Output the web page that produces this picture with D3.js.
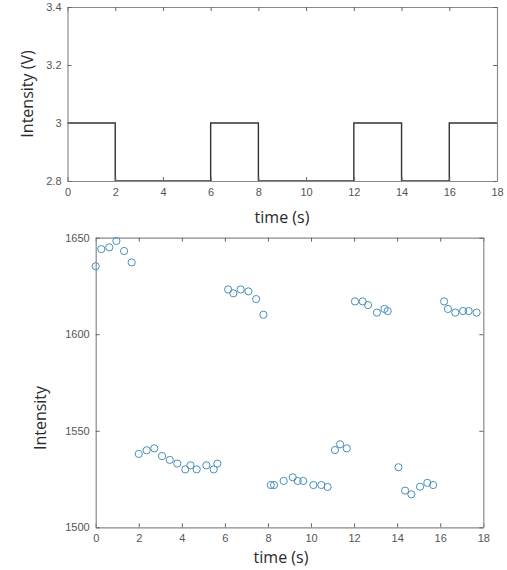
<!DOCTYPE html>
<html>
<head>
<meta charset="utf-8">
<script src="https://cdn.jsdelivr.net/npm/d3@7"></script>
<style>
  body { margin: 0; background: #fff; }
  svg { display: block; }
  .tick text { font-family: "Liberation Sans", Arial, sans-serif; font-size: 11px; fill: #555; }
  .lbl { font-family: "Open Sans", "Noto Sans", sans-serif; font-size: 16px; fill: #2a2a2a; }
</style>
</head>
<body>
<div id="chart"></div>
<script>
// square wave (top)
const waveX = [0, 2, 2, 6, 6, 8, 8, 12, 12, 14, 14, 16, 16, 18];
const waveY = [3, 3, 2.8, 2.8, 3, 3, 2.8, 2.8, 3, 3, 2.8, 2.8, 3, 3];
const topXTicks = [0, 2, 4, 6, 8, 10, 12, 14, 16, 18];
const topYTicks = [2.8, 3, 3.2, 3.4];

// measured intensity (bottom)
const timeS = [0, 0.26, 0.63, 0.96, 1.32, 1.67, 2.0, 2.37, 2.72, 3.08, 3.44, 3.79, 4.16, 4.40, 4.69, 5.14, 5.48, 5.65,
  6.15, 6.39, 6.73, 7.09, 7.45, 7.79, 8.13, 8.28, 8.73, 9.15, 9.38, 9.64, 10.11, 10.48, 10.77, 11.11, 11.35, 11.66,
  12.04, 12.40, 12.65, 13.06, 13.41, 13.56, 14.06, 14.37, 14.66, 15.06, 15.40, 15.67, 16.18, 16.36, 16.70, 17.06, 17.32, 17.69];
const intensity = [1635.2, 1644.1, 1645.0, 1648.3, 1643.1, 1637.2, 1538.0, 1539.9, 1540.9, 1536.9, 1534.9, 1533.0, 1530.0, 1532.1, 1530.0, 1532.1, 1530.0, 1533.0,
  1623.2, 1621.2, 1623.2, 1622.2, 1618.2, 1610.1, 1521.9, 1521.9, 1524.0, 1525.9, 1524.0, 1524.0, 1521.9, 1521.9, 1520.9, 1540.0, 1543.0, 1540.9,
  1617.0, 1617.0, 1615.1, 1611.2, 1613.1, 1612.0, 1531.1, 1519.0, 1517.1, 1521.0, 1523.0, 1521.9, 1617.0, 1613.1, 1611.2, 1612.0, 1612.0, 1611.2];
const botXTicks = [0, 2, 4, 6, 8, 10, 12, 14, 16, 18];
const botYTicks = [1500, 1550, 1600, 1650];

const W = 507, H = 570;
const svg = d3.select("#chart").append("svg").attr("width", W).attr("height", H);

const boxColor = "#8a8a8a";

function drawBox(g, x, y, xt, yt, fmtY) {
  const [x0, x1] = x.range();
  const [y0, y1] = y.range(); // y0 bottom
  const tl = 4;
  g.append("g").attr("transform", `translate(0,${y0})`)
    .call(d3.axisBottom(x).tickValues(xt).tickSizeInner(-tl).tickSizeOuter(0).tickPadding(7));
  g.append("g").attr("transform", `translate(0,${y1})`)
    .call(d3.axisTop(x).tickValues(xt).tickSizeInner(-tl).tickSizeOuter(0).tickFormat(""));
  g.append("g").attr("transform", `translate(${x0},0)`)
    .call(d3.axisLeft(y).tickValues(yt).tickSizeInner(-tl).tickSizeOuter(0).tickPadding(6).tickFormat(fmtY));
  g.append("g").attr("transform", `translate(${x1},0)`)
    .call(d3.axisRight(y).tickValues(yt).tickSizeInner(-tl).tickSizeOuter(0).tickFormat(""));
  g.selectAll(".domain").attr("stroke", boxColor).attr("stroke-width", 1.2);
  g.selectAll(".tick line").attr("stroke", "#666");
}

// ---- top chart
const xTop = d3.scaleLinear().domain([0, 18]).range([67.5, 497]);
const yTop = d3.scaleLinear().domain([2.8, 3.4]).range([181, 7]);
const gTop = svg.append("g");

const line = d3.line().x(d => xTop(d[0])).y(d => yTop(d[1]));
gTop.append("path")
  .datum(waveX.map((v, i) => [v, waveY[i]]))
  .attr("d", line)
  .attr("fill", "none")
  .attr("stroke", "#333")
  .attr("stroke-width", 1.4);

drawBox(gTop, xTop, yTop, topXTicks, topYTicks, d => d3.format("~g")(d));

svg.append("text").attr("class", "lbl")
  .attr("x", 282).attr("y", 223).attr("text-anchor", "middle").text("time (s)");
svg.append("text").attr("class", "lbl")
  .attr("transform", "translate(33,94) rotate(-90)").attr("text-anchor", "middle").text("Intensity (V)");

// ---- bottom chart
const xBot = d3.scaleLinear().domain([0, 18]).range([95.7, 483.3]);
const yBot = d3.scaleLinear().domain([1500, 1650]).range([527.3, 237.7]);
const gBot = svg.append("g");

drawBox(gBot, xBot, yBot, botXTicks, botYTicks, d3.format("d"));

gBot.selectAll("circle")
  .data(timeS)
  .enter()
  .append("circle")
  .attr("cx", d => xBot(d))
  .attr("cy", (d, i) => yBot(intensity[i]))
  .attr("r", 3.6)
  .attr("fill", "none")
  .attr("stroke", "#4a90b8")
  .attr("stroke-width", 1);

svg.append("text").attr("class", "lbl")
  .attr("x", 281).attr("y", 563).attr("text-anchor", "middle").text("time (s)");
svg.append("text").attr("class", "lbl")
  .attr("transform", "translate(46,418) rotate(-90)").attr("text-anchor", "middle").text("Intensity");
</script>
</body>
</html>
